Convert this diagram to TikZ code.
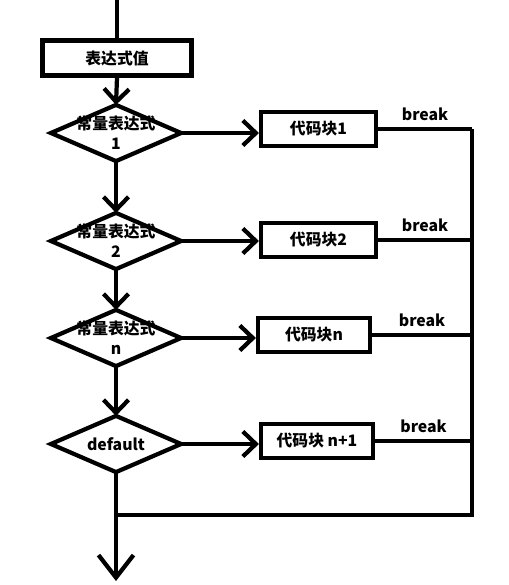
\documentclass[tikz,border=0pt]{standalone}
\usepackage{fontspec}
\setmainfont{Noto Sans CJK SC}
\usepackage{tikz}
\usetikzlibrary{arrows.meta}

\tikzset{
  blk/.style={draw, minimum width=2.3cm, minimum height=0.68cm, inner sep=0pt},
  cond/.style={minimum width=2.52cm, minimum height=1.04cm, inner sep=0pt, align=center},
}

\begin{document}
\begin{tikzpicture}[x=0.02cm, y=-0.02cm, line width=2.4pt,
  >={Straight Barb[length=2.6mm,width=5mm]},
  every node/.style={font=\fontsize{9}{11.6}\selectfont\bfseries}]
\useasboundingbox (0,0) rectangle (508,585);
%%%%% Nodes %%%%%
\coordinate (in) at (117,0);
\node[blk, minimum width=2.98cm, minimum height=0.7cm] (e) at (117,58) {表达式值};
\node[cond] (d1) at (116,133) {常量表达式\\1};
\node[cond] (d2) at (116,241) {常量表达式\\2};
\node[cond] (d3) at (116,338) {常量表达式\\n};
\node[cond] (d4) at (116,444) {default};
\node[blk] (b1) at (318.5,129) {代码块1};
\node[blk] (b2) at (318.5,240) {代码块2};
\node[blk, minimum width=2.24cm] (b3) at (314,335) {代码块n};
\node[blk, minimum width=2.24cm] (b4) at (317,441) {代码块 n+1};
\coordinate (bus) at (472,0);
\coordinate (join) at (116,515);
\coordinate (out) at (116,581);
%%%%% Diamonds %%%%%
\foreach \i in {1,...,4}{
\draw (d\i.north) -- (d\i.east) -- (d\i.south) -- (d\i.west) -- cycle;
}
%%%%% Flow %%%%%
\draw (in) -- (e.north);
\draw[->] (e.south) -- (d1.north);
\draw[->] (d1.south) -- (d2.north);
\draw[->] (d2.south) -- (d3.north);
\draw[->] (d3.south) -- (d4.north);
\draw[-{Straight Barb[length=4.5mm,width=7mm]}] (d4.south) -- (out);
\foreach \i in {1,...,4}{
\draw[->] (d\i.east) -- (d\i.east -| b\i.west);
\draw (b\i.east) -- (b\i.east -| bus) node[midway, above=0pt] {break};
}
\draw (b1.east -| bus) -- (join -| bus) -- (join);
\end{tikzpicture}
\end{document}
